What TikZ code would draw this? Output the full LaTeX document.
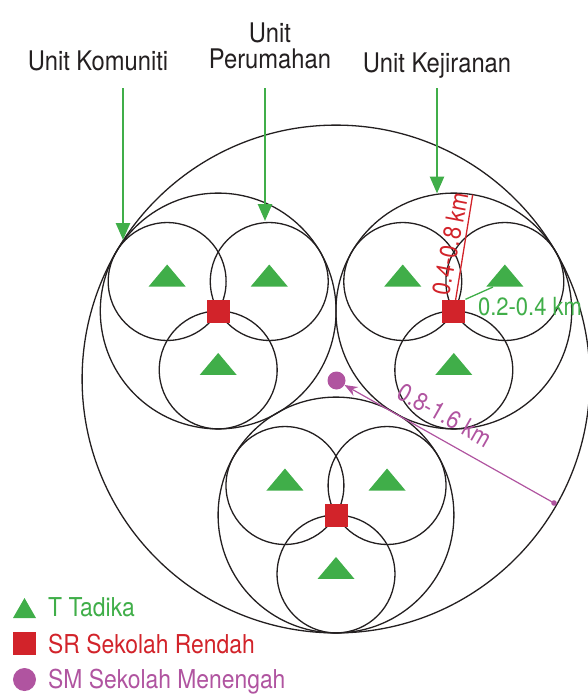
\documentclass[tikz,border=0pt]{standalone}
\usepackage{fontspec}
\setmainfont{TeX Gyre Heros}[FakeStretch=0.88]
\usetikzlibrary{arrows.meta,calc}
\definecolor{tgreen}{RGB}{64,174,73}
\definecolor{tred}{RGB}{210,35,42}
\definecolor{tpurple}{RGB}{176,84,160}
\definecolor{tink}{RGB}{35,31,32}
\begin{document}
\begin{tikzpicture}[x=1pt,y=-1pt,
  ring/.style={draw=tink,line width=1.3pt},
  srbox/.style={fill=tred,minimum size=23pt,inner sep=0pt,draw=none},
  smdot/.style={circle,fill=tpurple,minimum size=18pt,inner sep=0pt,draw=none},
  unitlabel/.style={text=tink,font=\fontsize{27}{31}\selectfont,inner sep=0pt},
  unitarrow/.style={draw=tgreen,line width=2.6pt,-{Triangle[length=17pt,width=14pt]}},
  measure/.style={font=\fontsize{25}{29}\selectfont,inner sep=0pt},
  legendtext/.style={font=\fontsize{26}{30}\selectfont,inner sep=0pt,anchor=base west},
  tadika/.pic={\fill[tgreen] (-18.5,8) -- (18.5,8) -- (0,-14) -- cycle;},
  legtadika/.pic={\fill[tgreen] (-11.5,10) -- (11.5,10) -- (0,-10) -- cycle;}
]
\useasboundingbox (0,0) rectangle (588,694);

% outer circle
\coordinate (C) at (336,379);
\draw[ring] (C) circle[radius=253.9pt];

% clusters
\foreach \n/\cx/\cy in {L/218.2/311, R/453.8/311, B/336/515} {
  \coordinate (c\n) at (\cx,\cy);
  \coordinate (c\n ul) at ($(c\n)+(-51.05,-29.5)$);
  \coordinate (c\n ur) at ($(c\n)+(51.05,-29.5)$);
  \coordinate (c\n b) at ($(c\n)+(0,58.95)$);
  \draw[ring] (c\n) circle[radius=117.9pt];
  \draw[ring] (c\n ul) circle[radius=58.95pt];
  \draw[ring] (c\n ur) circle[radius=58.95pt];
  \draw[ring] (c\n b) circle[radius=58.95pt];
}

% measurement lines in right cluster
\coordinate (rTop) at (472.7,194.6);
\coordinate (gEnd) at (493,287);
\draw[tred,line width=1.3pt] (cR) -- (rTop);

% schools
\foreach \n in {L,R,B} {
  \node[srbox] (sr\n) at (c\n) {};
  \pic at ($(c\n ul)+(0,-3)$) {tadika};
  \pic at ($(c\n ur)+(0,-3)$) {tadika};
  \pic at ($(c\n b)+(0,-3)$) {tadika};
}
\draw[tgreen,line width=1.3pt] (srR.north east) -- (gEnd);

\node[measure,text=tred,rotate=79] (lab48) at (450,243.5) {0.4-0.8 km};
\node[measure,text=tgreen,anchor=base] (lab24) at (530,315) {0.2-0.4 km};

% secondary school and radius
\node[smdot] (sm) at (336.5,380.5) {};
\coordinate (pEdge) at (554,503);
\draw[tpurple,line width=1.2pt,-{Stealth[length=13pt,width=10pt]}] (pEdge) -- (sm);
\fill[tpurple] (pEdge) circle[radius=2.8pt];
\node[measure,text=tpurple,rotate=-29.5] (lab816) at (445,415) {0.8-1.6 km};

% unit labels and arrows
\node[unitlabel,anchor=base] (uk) at (98,70) {Unit Komuniti};
\node[unitlabel,anchor=base] (up1) at (270,42) {Unit};
\node[unitlabel,anchor=base] (up2) at (270,68) {Perumahan};
\node[unitlabel,anchor=base] (uj) at (437,72) {Unit Kejiranan};
\coordinate (a1s) at (123,88);  \coordinate (a1e) at (123,240);
\coordinate (a2s) at (265,88);  \coordinate (a2e) at (265,221);
\coordinate (a3s) at (437,88);  \coordinate (a3e) at (437,193.5);
\draw[unitarrow] (a1s) -- (a1e);
\draw[unitarrow] (a2s) -- (a2e);
\draw[unitarrow] (a3s) -- (a3e);

% legend
\pic at (24.5,608) {legtadika};
\node[srbox] (lsr) at (24.5,643.5) {};
\node[smdot,minimum size=23pt] (lsm) at (24.5,679.5) {};
\node[legendtext,text=tgreen] (lt) at (48,616) {T Tadika};
\node[legendtext,text=tred] (lr) at (48,653) {SR Sekolah Rendah};
\node[legendtext,text=tpurple] (lm) at (48,688) {SM Sekolah Menengah};
\end{tikzpicture}
\end{document}
